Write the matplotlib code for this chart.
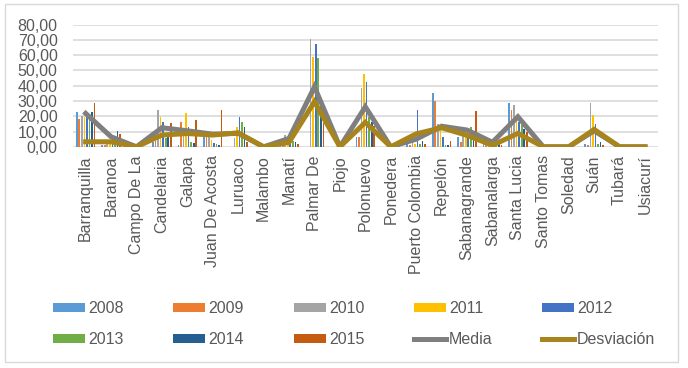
import numpy as np
import matplotlib
matplotlib.use("Agg")
import matplotlib.pyplot as plt
from matplotlib.patches import Rectangle, Patch
from matplotlib.lines import Line2D
from matplotlib.ticker import FuncFormatter

plt.rcParams['font.family'] = ['Liberation Sans', 'DejaVu Sans']

municipios = ['Barranquilla', 'Baranoa', 'Campo De La', 'Candelaria', 'Galapa',
              'Juan De Acosta', 'Luruaco', 'Malambo', 'Manatí', 'Palmar De', 'Piojo',
              'Polonuevo', 'Ponedera', 'Puerto Colombia', 'Repelón', 'Sabanagrande',
              'Sabanalarga', 'Santa Lucia', 'Santo Tomas', 'Soledad', 'Suán',
              'Tubará', 'Usiacurí']

# values
v2008 = [22.5, 1, 0, 3, 1, 6.2, 0, 0, 5, 0, 0, 6.6, 0, 2, 35, 6.6, 2, 28.5, 0, 0, 2, 0, 0]
v2009 = [18.2, 1, 0, 4, 16, 9.8, 0, 0, 6, 0, 0, 6.6, 0, 1, 30, 3.3, 1, 24, 0, 0, 1, 0, 0]
v2010 = [20, 2, 0, 24, 12, 8, 6, 0, 8, 70.4, 0, 38.3, 0, 3, 15, 12, 3, 27.1, 0, 0, 28.5, 0, 0]
v2011 = [19.7, 3, 0, 19.3, 21.9, 4.8, 13.1, 0, 7, 58.6, 0, 47.7, 0, 2, 12, 11.4, 4, 20.8, 0, 0, 20.8, 0, 0]
v2012 = [22, 8, 0, 16, 13.1, 2.6, 19.7, 0, 4.4, 67.3, 0, 42.2, 0, 24, 6.5, 8, 3, 16, 0, 0, 15, 0, 0]
v2013 = [20.8, 6, 0, 6, 3, 1.8, 16.4, 0, 3.5, 58, 0, 19.7, 0, 2, 1.5, 13.1, 2, 14, 0, 0, 2, 0, 0]
v2014 = [22.5, 10.3, 0, 7, 2.2, 1, 13.1, 0, 3.3, 28, 0, 16.4, 0, 4, 1.5, 10, 4, 12, 0, 0, 3.3, 0, 0]
v2015 = [28.5, 8.3, 0, 15.7, 17.5, 24, 3, 0, 2, 15.3, 0, 13.6, 0, 2, 3.5, 23.4, 1, 9.8, 0, 0, 1, 0, 0]
media = [21.9, 6.6, 0, 12.5, 10.5, 8.3, 8.8, 0, 5.5, 39.3, 0, 26.2, 0, 5, 13.5, 11, 3, 19.7, 0, 0, 10.5, 0, 0]
desviacion = [3.3, 3.3, 0, 7.7, 8.7, 7.7, 9.2, 0, 3, 29.5, 0, 16, 0, 8.5, 12.5, 7.5, 1, 8.8, 0, 0, 11.4, 0, 0]

years = ['2008', '2009', '2010', '2011', '2012', '2013', '2014', '2015']
series = [v2008, v2009, v2010, v2011, v2012, v2013, v2014, v2015]
colors = ['#5B9BD5', '#ED7D31', '#A5A5A5', '#FFC000', '#4472C4', '#70AD47', '#255E91', '#C55A11']
media_color = '#7F7F7F'
desv_color = '#A8841C'
text_color = '#595959'

fig = plt.figure(figsize=(6.88, 3.68), dpi=100)
ax = fig.add_axes([0.106, 0.601, 0.850, 0.332])

x = np.arange(len(municipios))
for i, (vals, c) in enumerate(zip(series, colors)):
    ax.bar(x + (i - 3.5) * 0.1, vals, width=0.065, color=c, zorder=2)

ax.plot(x, media, color=media_color, lw=3.6, zorder=3, solid_joinstyle='miter')
ax.plot(x, desviacion, color=desv_color, lw=3.6, zorder=4, solid_joinstyle='miter')

ax.set_xlim(-0.5, len(municipios) - 0.5)
ax.set_ylim(0, 80)
ax.set_yticks(np.arange(0, 81, 10))
ax.yaxis.set_major_formatter(FuncFormatter(lambda v, p: f"{v:.2f}".replace('.', ',')))
ax.set_xticks(x)
ax.set_xticklabels(municipios, rotation=90)
ax.tick_params(axis='both', length=0, labelsize=11.5, colors=text_color)
ax.tick_params(axis='y', pad=11)
ax.tick_params(axis='x', pad=6)
ax.grid(axis='y', color='#D9D9D9', lw=1.2, zorder=0)
ax.set_axisbelow(True)
for s in ax.spines.values():
    s.set_visible(False)

handles = [Patch(facecolor=c) for c in colors]
handles += [Line2D([], [], color=media_color, lw=3.6), Line2D([], [], color=desv_color, lw=3.6)]
labels = years + ['Media', 'Desviación']
# reorder so legend fills row by row (5 columns)
order = [0, 5, 1, 6, 2, 7, 3, 8, 4, 9]
fig.legend([handles[k] for k in order], [labels[k] for k in order], ncol=5,
           loc='center', bbox_to_anchor=(0.515, 1 - 324 / 368), frameon=False,
           fontsize=11.5, labelcolor=text_color, handlelength=2.0, handleheight=0.45,
           handletextpad=0.2, columnspacing=3.1, labelspacing=1.0)

fig.patches.append(Rectangle((5 / 688, 1 - 362 / 368), 673 / 688, 358 / 368,
                             transform=fig.transFigure, fill=False,
                             edgecolor='#D9D9D9', lw=1))

fig.savefig('out.png', dpi=100)
